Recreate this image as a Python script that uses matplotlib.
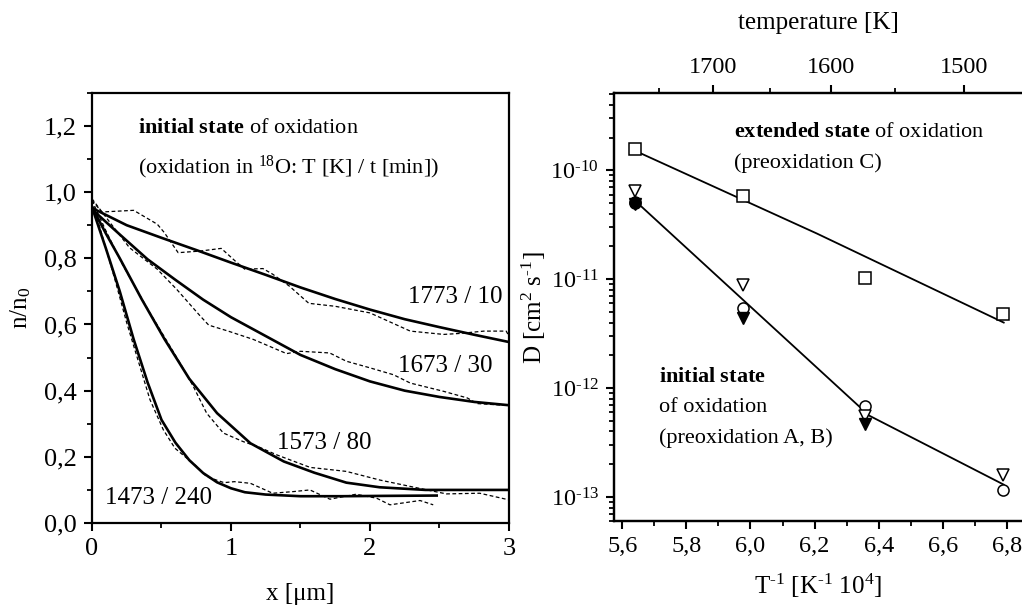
import matplotlib
matplotlib.use("Agg")
import matplotlib.pyplot as plt
import numpy as np
from matplotlib.ticker import FuncFormatter, MultipleLocator, LogLocator, NullFormatter

plt.rcParams['font.family'] = ['Liberation Serif', 'DejaVu Serif']
plt.rcParams['mathtext.fontset'] = 'custom'
plt.rcParams['mathtext.rm'] = 'Liberation Serif'
plt.rcParams['mathtext.it'] = 'Liberation Serif:italic'
plt.rcParams['mathtext.bf'] = 'Liberation Serif:bold'

HY = "\u2010"  # short hyphen used as minus in exponents

# ---- left panel: depth profiles n/n0 vs x (solid = fit, dashed = measured)
x_1773 = [0, 0.25, 0.5, 0.75, 1.0, 1.25, 1.5, 1.75, 2.0, 2.25, 2.5, 2.75, 3.0]
y_1773 = [0.952, 0.90, 0.862, 0.825, 0.787, 0.750, 0.712, 0.677, 0.645, 0.616, 0.592, 0.569, 0.547]
x_1673 = [0, 0.1, 0.2, 0.4, 0.6, 0.8, 1.0, 1.25, 1.5, 1.75, 2.0, 2.25, 2.5, 2.75, 3.0]
y_1673 = [0.948, 0.91, 0.872, 0.797, 0.735, 0.675, 0.622, 0.565, 0.508, 0.465, 0.428, 0.400, 0.381, 0.366, 0.356]
x_1573 = [0, 0.1, 0.2, 0.357, 0.523, 0.7, 0.9, 1.14, 1.38, 1.6, 1.83, 2.07, 2.4, 2.7, 3.0]
y_1573 = [0.955, 0.875, 0.80, 0.677, 0.555, 0.436, 0.332, 0.241, 0.186, 0.152, 0.122, 0.108, 0.100, 0.10, 0.10]
x_1473 = [0, 0.1, 0.2, 0.3, 0.4, 0.5, 0.6, 0.7, 0.8, 0.9, 1.0, 1.1, 1.25, 1.5, 1.8, 2.1, 2.48]
y_1473 = [0.955, 0.83, 0.70, 0.555, 0.425, 0.312, 0.243, 0.19, 0.151, 0.123, 0.105, 0.093, 0.086, 0.081, 0.081, 0.082, 0.083]

xm_1773 = [0.0, 0.07, 0.3, 0.47, 0.52, 0.62, 0.78, 0.93, 1.03, 1.10, 1.23, 1.30, 1.42, 1.56, 1.75, 2.0, 2.29, 2.53, 2.65, 2.82, 2.98, 3.0]
ym_1773 = [0.975, 0.94, 0.945, 0.903, 0.878, 0.817, 0.822, 0.83, 0.792, 0.767, 0.769, 0.752, 0.716, 0.664, 0.655, 0.635, 0.580, 0.570, 0.573, 0.580, 0.580, 0.565]
xm_1673 = [0.0, 0.13, 0.27, 0.47, 0.61, 0.78, 0.84, 0.98, 1.16, 1.40, 1.50, 1.71, 1.83, 2.0, 2.17, 2.29, 2.53, 2.70, 2.77, 3.0]
ym_1673 = [0.98, 0.908, 0.832, 0.767, 0.706, 0.625, 0.598, 0.58, 0.555, 0.512, 0.519, 0.514, 0.489, 0.469, 0.448, 0.423, 0.398, 0.378, 0.361, 0.355]
xm_1573 = [0.0, 0.106, 0.225, 0.417, 0.633, 0.729, 0.825, 0.945, 1.088, 1.2, 1.329, 1.57, 1.83, 2.07, 2.41, 2.55, 2.79, 3.0]
ym_1573 = [0.975, 0.878, 0.777, 0.635, 0.484, 0.413, 0.332, 0.272, 0.246, 0.23, 0.206, 0.168, 0.156, 0.130, 0.100, 0.088, 0.09, 0.07]
xm_1473 = [0.0, 0.165, 0.25, 0.417, 0.513, 0.597, 0.753, 0.825, 0.95, 1.025, 1.14, 1.30, 1.45, 1.568, 1.712, 1.9, 2.048, 2.144, 2.36, 2.455]
ym_1473 = [0.975, 0.736, 0.605, 0.373, 0.282, 0.226, 0.171, 0.14, 0.122, 0.125, 0.12, 0.09, 0.095, 0.10, 0.072, 0.087, 0.075, 0.055, 0.068, 0.055]

curve_labels = ["1773 / 10", "1673 / 30", "1573 / 80", "1473 / 240"]

# ---- right panel: diffusion coefficients vs 1/T
T_K = np.array([1773, 1673, 1573, 1473])
inv_T = 1e4 / T_K
D_C = [1.56e-10, 5.8e-11, 1.02e-11, 4.8e-12]          # squares, preoxidation C
D_open_tri = [6.4e-11, 8.8e-12, 5.6e-13, 1.6e-13]
D_open_circ = [5.0e-11, 5.4e-12, 6.9e-13, 1.15e-13]
D_full_tri = [4.9e-11, 4.4e-12, 4.7e-13, np.nan]
D_full_circ = [5.1e-11, np.nan, np.nan, np.nan]
fitC_x = [5.645, 6.207, 6.79]
fitC_D = [1.49e-10, 2.63e-11, 4.0e-12]
fitAB_x = [5.645, 6.37, 6.79]
fitAB_D = [5.1e-11, 5.6e-13, 1.3e-13]

top_T_major = [1700, 1600, 1500]
top_T_minor = [1750, 1650, 1550]

fig = plt.figure(figsize=(10.22, 6.11), dpi=100)
ax = fig.add_axes([0.090, 0.144, 0.408, 0.704])
bx = fig.add_axes([0.601, 0.147, 0.399, 0.700])

comma = FuncFormatter(lambda v, p: f"{v:.1f}".replace('.', ','))
logfmt = FuncFormatter(lambda v, p: "10$^{%s%d}$" % (HY, -int(round(np.log10(v)))))

# left
for xs, ys in [(xm_1773, ym_1773), (xm_1673, ym_1673), (xm_1573, ym_1573), (xm_1473, ym_1473)]:
    ax.plot(xs, ys, color='black', lw=0.9, ls=(0, (3, 2)))
for xs, ys in [(x_1773, y_1773), (x_1673, y_1673), (x_1573, y_1573), (x_1473, y_1473)]:
    ax.plot(xs, ys, color='black', lw=1.9)

ax.set_xlim(0, 3)
ax.set_ylim(0, 1.3)
ax.xaxis.set_major_locator(MultipleLocator(1))
ax.xaxis.set_minor_locator(MultipleLocator(0.5))
ax.yaxis.set_major_locator(MultipleLocator(0.2))
ax.yaxis.set_minor_locator(MultipleLocator(0.1))
ax.yaxis.set_major_formatter(comma)
ax.set_xlabel("x [μm]", fontsize=18, labelpad=16)
ax.set_ylabel("n/n$_0$", fontsize=18, labelpad=8)

ax.text(0.331, 1.191, r"$\mathbf{initial\ state}$ of oxidation", fontsize=16, va='center')
ax.text(0.331, 1.076, r"(oxidation in $^{18}$O: T [K] / t [min])", fontsize=16, va='center')
label_pos = [(2.273, 0.682), (2.201, 0.476), (1.331, 0.242), (0.094, 0.076)]
for lab, (lx, ly) in zip(curve_labels, label_pos):
    ax.text(lx, ly, lab, fontsize=18, va='center')

# right
bx.set_yscale('log')
bx.plot(fitC_x, fitC_D, color='black', lw=1.3)
bx.plot(fitAB_x, fitAB_D, color='black', lw=1.3)
ms = 8
bx.plot(inv_T, D_C, ls='none', marker='s', ms=ms, mfc='white', mec='black', mew=1.1)
bx.plot(inv_T, D_open_circ, ls='none', marker='o', ms=ms, mfc='white', mec='black', mew=1.1)
bx.plot(inv_T, D_open_tri, ls='none', marker='v', ms=ms + 1, mfc='white', mec='black', mew=1.1)
bx.plot(inv_T, D_full_tri, ls='none', marker='v', ms=ms + 1, mfc='black', mec='black')
bx.plot(inv_T, D_full_circ, ls='none', marker='o', ms=ms, mfc='black', mec='black')

bx.set_xlim(5.575, 6.847)
bx.set_ylim(6.0e-14, 5.08e-10)
bx.xaxis.set_major_locator(MultipleLocator(0.2))
bx.xaxis.set_minor_locator(MultipleLocator(0.1))
bx.xaxis.set_major_formatter(comma)
bx.yaxis.set_major_locator(LogLocator(base=10, numticks=20))
bx.yaxis.set_major_formatter(logfmt)
bx.yaxis.set_minor_locator(LogLocator(base=10, subs=np.arange(2, 10), numticks=20))
bx.yaxis.set_minor_formatter(NullFormatter())
bx.set_xlabel("T$^{%s1}$ [K$^{%s1}$ 10$^{4}$]" % (HY, HY), fontsize=18, labelpad=10)
bx.set_ylabel("D [cm$^{2}$ s$^{%s1}$]" % HY, fontsize=18, labelpad=2)
bx.spines['right'].set_visible(False)

bx.text(5.949, 2.23e-10, r"$\mathbf{extended\ state}$ of oxidation", fontsize=16, va='center')
bx.text(5.949, 1.16e-10, "(preoxidation C)", fontsize=16, va='center')
bx.text(5.715, 1.24e-12, r"$\mathbf{initial\ state}$", fontsize=16, va='center')
bx.text(5.715, 6.7e-13, "of oxidation", fontsize=16, va='center')
bx.text(5.715, 3.47e-13, "(preoxidation A, B)", fontsize=16, va='center')

top = bx.twiny()
top.set_xlim(bx.get_xlim())
top.set_xticks(1e4 / np.array(top_T_major), [str(t) for t in top_T_major])
top.set_xticks(1e4 / np.array(top_T_minor), minor=True)
top.set_xlabel("temperature [K]", fontsize=18, labelpad=20)
top.spines['right'].set_visible(False)

for a in (ax, bx, top):
    for s in a.spines.values():
        s.set_linewidth(1.6)
    a.tick_params(which='major', direction='out', length=6, width=1.5, labelsize=17.5, pad=5)
    a.tick_params(which='minor', direction='out', length=3.5, width=1.3)
ax.tick_params(which='major', labelsize=19)

fig.savefig("out.png", dpi=100)
